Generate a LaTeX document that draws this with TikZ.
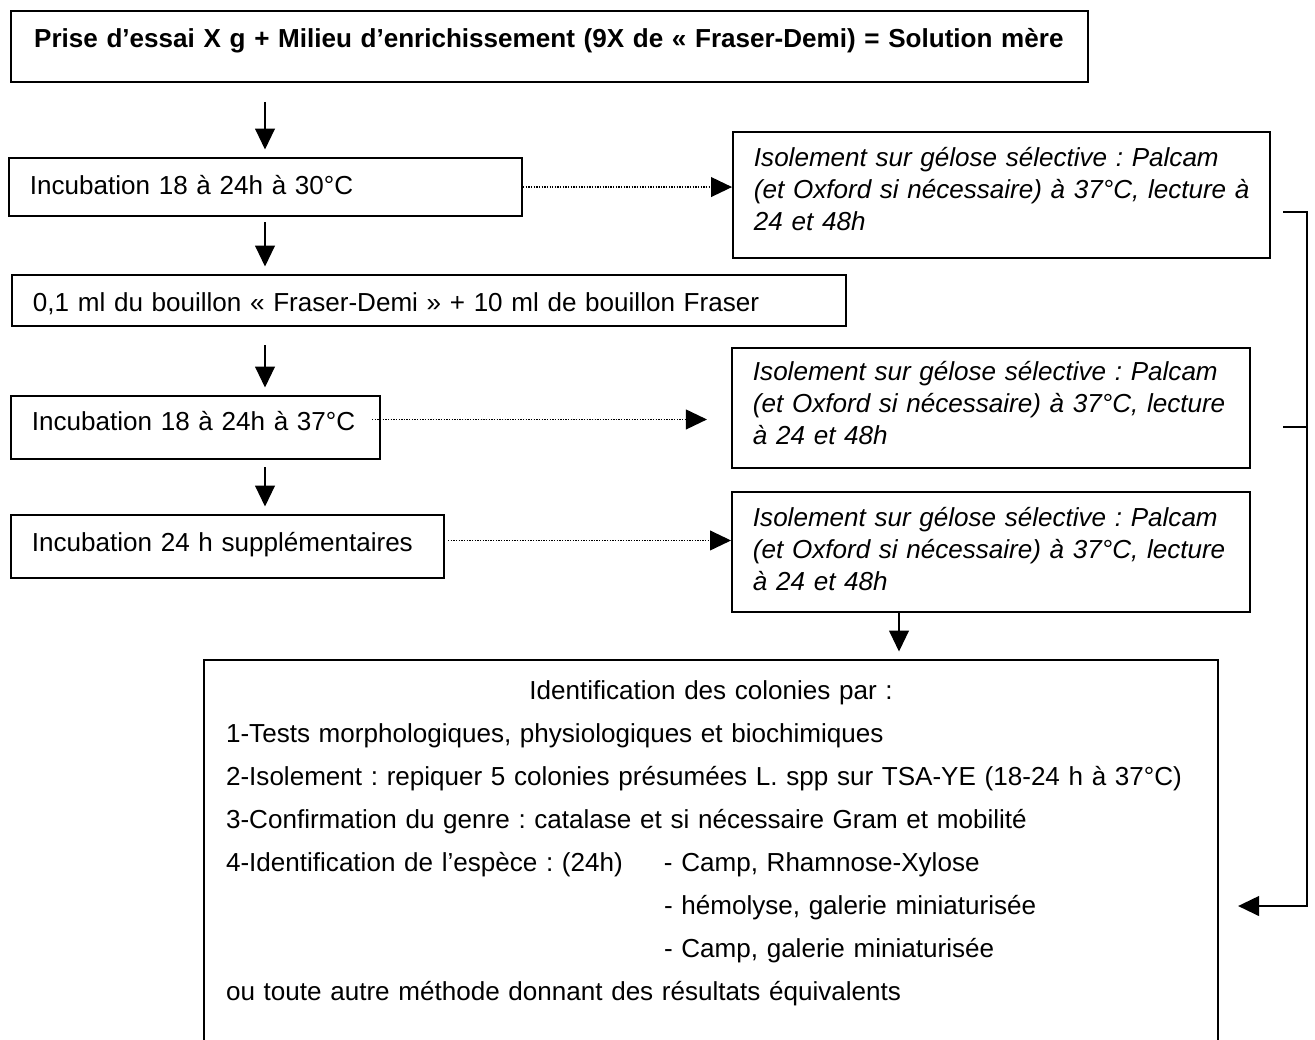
\documentclass[12pt,tikz,border=0pt]{standalone}
\usepackage{fontspec}
\setmainfont{Liberation Sans}[Scale=0.983]
\usetikzlibrary{arrows.meta,calc}
\frenchspacing

\begin{document}
\begin{tikzpicture}[x=0.4528pt,y=-0.4528pt,
  boite/.style={draw,line width=0.9pt,anchor=north west,inner xsep=9.5pt,inner ysep=0pt,align=left,text height=16.3pt},
  iso/.style={boite,font=\itshape,text height=15.4pt},
  fleche/.style={semithick,-{Triangle[width=9pt,length=9.5pt]},shorten >=3.4pt},
  pointille/.style={line width=0.5pt,dash pattern=on 0.6pt off 0.6pt,-{Triangle[width=9pt,length=9.5pt]}}]
  \useasboundingbox (0,0) rectangle (1315,1039);
  \clip (0,0) rectangle (1315,1039);
  \node[boite,font=\bfseries,text width=466.7pt,inner xsep=10.5pt,text depth=15.8pt] (prise) at (10,10) {\mbox{Prise d’essai X g + Milieu d’enrichissement (9X de «~Fraser-Demi) = Solution mère}};
  \node[boite,text width=213.3pt,text depth=10pt] (inc1) at (8,157) {\mbox{Incubation 18 à 24h à 30°C}};
  \node[iso,text width=224.2pt,text depth=41.7pt] (iso1) at (732,131) {\mbox{Isolement sur gélose sélective : Palcam}\\\mbox{(et Oxford si nécessaire) à 37°C, lecture à}\\24 et 48h};
  \node[boite,text width=358.6pt,text depth=6.8pt] (bouillon) at (11,274) {\mbox{0,1 ml du bouillon «~Fraser-Demi~» + 10 ml de bouillon Fraser}};
  \node[boite,text width=148.1pt,text height=15.8pt,text depth=12.7pt] (inc2) at (10,395) {\mbox{Incubation 18 à 24h à 37°C}};
  \node[iso,text width=215.6pt,text height=14.9pt,text depth=39.4pt] (iso2) at (731,347) {\mbox{Isolement sur gélose sélective : Palcam}\\\mbox{(et Oxford si nécessaire) à 37°C, lecture}\\à 24 et 48h};
  \node[boite,text width=177.1pt,text depth=12.2pt] (inc3) at (10,514) {\mbox{Incubation 24 h supplémentaires}};
  \node[iso,text width=215.6pt,text depth=38.9pt] (iso3) at (731,491) {\mbox{Isolement sur gélose sélective : Palcam}\\\mbox{(et Oxford si nécessaire) à 37°C, lecture}\\à 24 et 48h};
  \node[boite,text width=439.2pt,inner xsep=10pt,text height=17.7pt,text depth=190pt,font=\fontsize{12}{19.5}\selectfont] (ident) at (203,659) {\makebox[439.2pt]{Identification des colonies par :}\\
    \mbox{1-Tests morphologiques, physiologiques et biochimiques}\\
    \mbox{2-Isolement : repiquer 5 colonies présumées L. spp sur TSA-YE (18-24 h à 37°C)}\\
    \mbox{3-Confirmation du genre : catalase et si nécessaire Gram et mobilité}\\
    \makebox[198.3pt][l]{4-Identification de l’espèce : (24h)}- Camp, Rhamnose-Xylose\\
    \hspace*{198.3pt}- hémolyse, galerie miniaturisée\\
    \hspace*{198.3pt}- Camp, galerie miniaturisée\\
    \mbox{ou toute autre méthode donnant des résultats équivalents}};
  \coordinate (axe) at (265,0);
  \coordinate (axe2) at (899,0);
  \draw[fleche,shorten <=8.6pt] (prise.south -| axe) -- (inc1.north -| axe);
  \draw[fleche,shorten <=2.3pt] (inc1.south -| axe) -- (bouillon.north -| axe);
  \draw[fleche,shorten <=8.2pt] (bouillon.south -| axe) -- (inc2.north -| axe);
  \draw[fleche,shorten <=3.2pt] (inc2.south -| axe) -- (inc3.north -| axe);
  \draw[fleche] (iso3.south -| axe2) -- (ident.north -| axe2);
  \draw[pointille] (inc1.east) -- (inc1.east -| iso1.west);
  \draw[pointille,shorten >=10.9pt] ($(inc2.east)+(-9,-8)$) -- ($(inc2.east -| iso2.west)+(0,-8)$);
  \draw[pointille] ($(inc3.east)+(3,-6)$) -- ($(inc3.east -| iso3.west)+(0,-6)$);
  \coordinate (b1) at (1283,212);
  \coordinate (b2) at (1283,427);
  \coordinate (b3) at (1307,906);
  \draw[line width=0.7pt,-{Triangle[width=9pt,length=9.5pt]},shorten >=8.6pt] (b1) -- (b1 -| b3) -- (b3) -- (b3 -| ident.east);
  \draw[line width=0.7pt] (b2) -- (b2 -| b3);
\end{tikzpicture}
\end{document}
